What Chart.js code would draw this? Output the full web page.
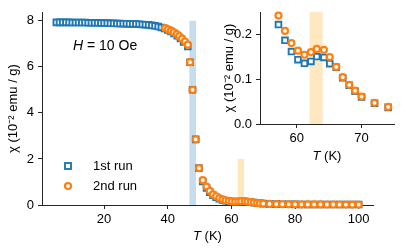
<!DOCTYPE html>
<html>
<head>
<meta charset="utf-8">
<script src="https://cdn.jsdelivr.net/npm/chart.js@4.4.1/dist/chart.umd.min.js"></script>
<style>
  html, body { margin: 0; padding: 0; background: #fff; }
  #wrap { position: relative; width: 415px; height: 249px; }
  canvas { position: absolute; top: 0; }
  #main { left: 0; }
  #inset { left: 200px; }
</style>
</head>
<body>
<div id="wrap">
  <canvas id="main" width="415" height="249"></canvas>
  <canvas id="inset" width="215" height="170"></canvas>
</div>
<script>
// ---- data ----
const run1T = [5, 6, 7, 8, 9, 10, 11, 12, 13, 14, 15, 16, 17, 18, 19, 20, 21, 22, 23, 24, 25,
  26, 27, 28, 29, 30, 31, 32, 33, 34, 35, 36, 37, 38, 39, 40, 41, 42, 43, 44, 45,
  46.3, 47.0, 47.8, 48.8, 49.8, 51.0, 52.2, 53.2, 54.2, 55.2, 56.2,
  57.2, 58.2, 59.2, 60.2, 61.2, 62.2, 63.1, 64.2, 65.1, 66.1, 67.1, 68.1, 69.0, 70.0, 72.0, 74.1,
  76, 78, 80, 82, 84, 86, 88, 90, 92, 94, 96, 98, 100];
const run1Chi = [7.93, 7.93, 7.93, 7.93, 7.93, 7.92, 7.92, 7.92, 7.92, 7.92, 7.91, 7.91, 7.91, 7.91, 7.90, 7.90, 7.90, 7.89, 7.89, 7.88, 7.88,
  7.87, 7.87, 7.86, 7.86, 7.86, 7.85, 7.84, 7.83, 7.82, 7.80, 7.78, 7.75, 7.71, 7.66, 7.60, 7.53, 7.45, 7.35, 7.23, 7.08,
  6.88, 6.2, 5.0, 2.85, 1.6, 1.02, 0.74, 0.56, 0.43, 0.34, 0.27,
  0.221, 0.186, 0.161, 0.143, 0.135, 0.139, 0.150, 0.148, 0.134, 0.126, 0.103, 0.086, 0.073, 0.060, 0.046, 0.037,
  0.032, 0.029, 0.027, 0.025, 0.024, 0.023, 0.022, 0.021, 0.020, 0.020, 0.019, 0.019, 0.018];

const run2T = [39.2, 40.1, 41.0, 41.9, 42.8, 43.6, 44.5, 45.4, 46.3, 47.0, 47.8, 48.8, 49.8, 51.0, 52.2, 53.2, 54.2, 55.2, 56.2,
  57.2, 58.2, 59.2, 60.2, 61.2, 62.2, 63.1, 64.2, 65.1, 66.1, 67.1, 68.1, 69.0, 70.0, 72.0, 74.1,
  76, 78, 80, 82, 84, 86, 88, 90, 92, 94, 96, 98, 100];
const run2Chi = [7.68, 7.63, 7.57, 7.50, 7.42, 7.33, 7.22, 7.10, 6.96, 6.2, 5.0, 2.85, 1.6, 1.08, 0.8, 0.61, 0.46, 0.38, 0.3,
  0.241, 0.207, 0.180, 0.163, 0.154, 0.160, 0.167, 0.165, 0.149, 0.127, 0.104, 0.087, 0.074, 0.061, 0.047, 0.038,
  0.033, 0.030, 0.028, 0.026, 0.025, 0.024, 0.023, 0.022, 0.021, 0.021, 0.020, 0.020, 0.019];

const seriesNames = ['1st run', '2nd run'];
const transitionT = [46.8, 48.9];
const transitionTop = 8;
const kinkT = [62, 64];
const kinkTop = 2;

const mainXTicks = [20, 40, 60, 80, 100];
const mainYTicks = [0, 2, 4, 6, 8];
const insetXTicks = [60, 70];
const insetYTicks = [0.0, 0.1, 0.2];

// ---- style ----
const FONT = "'Liberation Sans', Arial, sans-serif";
const SIZE = 13;
const AXIS = '#262626';
const BLUE = '#1f77b4';
const ORANGE = '#ff7f0e';
const BLUE_BAND = 'rgba(31,119,180,0.25)';
const ORANGE_BAND = 'rgba(255,165,0,0.25)';

Chart.defaults.font.family = FONT;
Chart.defaults.font.size = SIZE;
Chart.defaults.color = '#000';

const pts = (xs, ys) => xs.map((x, i) => ({ x: x, y: ys[i] }));

function drawRich(ctx, segs, x, y, align, size) {
  size = size || SIZE;
  ctx.save();
  ctx.textBaseline = 'middle';
  ctx.textAlign = 'left';
  ctx.fillStyle = '#000';
  const fonts = segs.map(s => (s.italic ? 'italic ' : '') + size + 'px ' + FONT);
  const widths = segs.map((s, i) => { ctx.font = fonts[i]; return ctx.measureText(s.text).width; });
  const total = widths.reduce((a, b) => a + b, 0);
  let cx = align === 'center' ? x - total / 2 : x;
  segs.forEach((s, i) => {
    ctx.font = fonts[i];
    ctx.fillText(s.text, cx, y);
    cx += widths[i];
  });
  ctx.restore();
}

const bandsPlugin = {
  id: 'bands',
  beforeDatasetsDraw(chart, args, opts) {
    const { ctx, chartArea, scales } = chart;
    ctx.save();
    (opts.list || []).forEach(b => {
      const x0 = scales.x.getPixelForValue(b.x[0]);
      const x1 = scales.x.getPixelForValue(b.x[1]);
      const yTop = b.top === undefined ? chartArea.top : scales.y.getPixelForValue(b.top);
      const yBot = scales.y.getPixelForValue(0);
      ctx.fillStyle = b.color;
      ctx.fillRect(x0, yTop, x1 - x0, yBot - yTop);
    });
    ctx.restore();
  }
};

const textPlugin = {
  id: 'texts',
  afterDraw(chart, args, opts) {
    const { ctx, chartArea } = chart;
    // x axis label  T (K)
    drawRich(ctx, [{ text: 'T', italic: true }, { text: ' (K)' }],
      (chartArea.left + chartArea.right) / 2, chartArea.bottom + opts.xLabelOffset, 'center');
    if (opts.note) {
      drawRich(ctx, [{ text: 'H', italic: true }, { text: ' = 10 Oe' }], 73, 46.5, 'left', 14);
    }
    if (opts.legend) {
      ctx.save();
      ctx.lineWidth = 1.9;
      ctx.strokeStyle = BLUE;
      ctx.fillStyle = '#fff';
      ctx.fillRect(65, 163, 6, 6);
      ctx.strokeRect(65, 163, 6, 6);
      ctx.lineWidth = 2.2;
      ctx.strokeStyle = ORANGE;
      ctx.beginPath();
      ctx.arc(68, 186, 3, 0, Math.PI * 2);
      ctx.fill();
      ctx.stroke();
      ctx.restore();
      drawRich(ctx, [{ text: seriesNames[0] }], 93, 166, 'left');
      drawRich(ctx, [{ text: seriesNames[1] }], 93, 186, 'left');
    }
  }
};

function axisX(min, max, ticks, height) {
  return {
    type: 'linear', min: min, max: max,
    afterBuildTicks: s => { s.ticks = ticks.map(v => ({ value: v })); },
    afterFit: s => { s.height = height; },
    grid: { drawOnChartArea: false, drawTicks: true, tickLength: 4, color: AXIS, tickWidth: 1 },
    border: { color: AXIS, width: 1 },
    ticks: { color: '#000', padding: 3, maxRotation: 0, callback: v => String(v) }
  };
}

function axisY(min, max, ticks, width, fmt, titlePad) {
  return {
    type: 'linear', min: min, max: max,
    afterBuildTicks: s => { s.ticks = ticks.map(v => ({ value: v })); },
    afterFit: s => { s.width = width; },
    grid: { drawOnChartArea: false, drawTicks: true, tickLength: 4, color: AXIS, tickWidth: 1 },
    border: { color: AXIS, width: 1 },
    ticks: { color: '#000', padding: 4, callback: fmt },
    title: { display: true, text: 'χ (10⁻² emu / g)', color: '#000', font: { size: SIZE }, padding: { top: titlePad, bottom: 0 } }
  };
}

function datasets(clip) {
  return [
    {
      label: seriesNames[0], data: pts(run1T, run1Chi), order: 2, clip: clip,
      pointStyle: 'rect', pointRadius: 4, pointBorderWidth: 1.9,
      pointBorderColor: BLUE, pointBackgroundColor: '#fff', pointHoverRadius: 4
    },
    {
      label: seriesNames[1], data: pts(run2T, run2Chi), order: 1, clip: clip,
      pointStyle: 'circle', pointRadius: 3, pointBorderWidth: 2.2,
      pointBorderColor: ORANGE, pointBackgroundColor: '#fff', pointHoverRadius: 3
    }
  ];
}

new Chart(document.getElementById('main'), {
  type: 'scatter',
  data: { datasets: datasets(false) },
  options: {
    responsive: false, animation: false, devicePixelRatio: 1,
    layout: { padding: { left: 0, right: 42, top: 12, bottom: 0 } },
    scales: {
      x: axisX(0.5, 104.5, mainXTicks, 44),
      y: axisY(0, 8.38, mainYTicks, 42, v => String(v), 5.2)
    },
    plugins: {
      legend: { display: false }, tooltip: { enabled: false },
      bands: { list: [
        { x: transitionT, top: transitionTop, color: BLUE_BAND },
        { x: kinkT, top: kinkTop, color: ORANGE_BAND }
      ] },
      texts: { xLabelOffset: 31, note: true, legend: true }
    }
  },
  plugins: [bandsPlugin, textPlugin]
});

new Chart(document.getElementById('inset'), {
  type: 'scatter',
  data: { datasets: datasets({ left: 0, right: 0, top: 6, bottom: 6 }) },
  options: {
    responsive: false, animation: false, devicePixelRatio: 1,
    layout: { padding: { left: 0, right: 21, top: 12, bottom: 0 } },
    scales: {
      x: axisX(54.35, 75, insetXTicks, 46),
      y: axisY(0, 0.249, insetYTicks, 60, v => v.toFixed(1), 21.2)
    },
    plugins: {
      legend: { display: false }, tooltip: { enabled: false },
      bands: { list: [{ x: kinkT, color: ORANGE_BAND }] },
      texts: { xLabelOffset: 32.5 }
    }
  },
  plugins: [bandsPlugin, textPlugin]
});
</script>
</body>
</html>
